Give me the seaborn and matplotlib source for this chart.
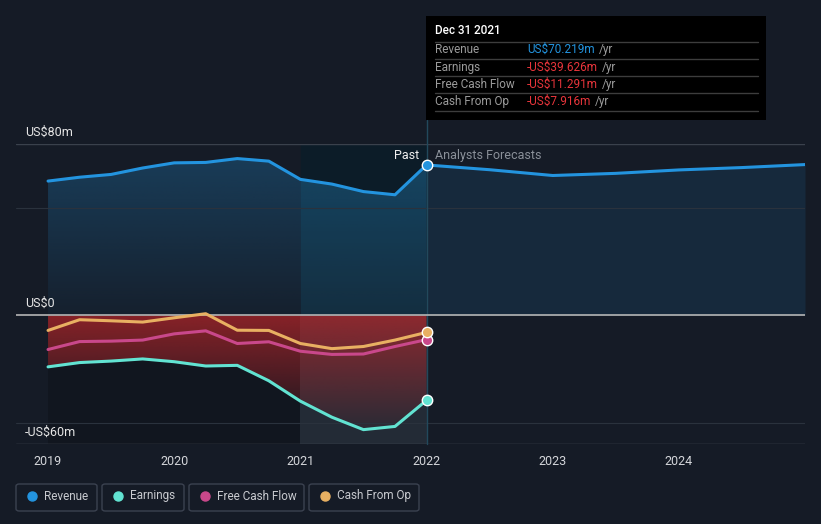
import numpy as np
import pandas as pd
import matplotlib
matplotlib.use("Agg")
import matplotlib.pyplot as plt
import matplotlib.colors as mcolors
from matplotlib.patches import FancyBboxPatch, Rectangle
from matplotlib.lines import Line2D
import seaborn as sns

# ---- data (US$m, trailing twelve months) ----
past_dates = [2019.0, 2019.25, 2019.5, 2019.75, 2020.0, 2020.25, 2020.5,
              2020.75, 2021.0, 2021.25, 2021.5, 2021.75, 2022.0]
revenue = [62.7, 64.5, 65.8, 68.8, 71.2, 71.4, 73.2, 72.0, 63.5, 61.3, 57.8, 56.3, 70.219]
earnings = [-24.0, -22.0, -21.3, -20.3, -21.6, -23.6, -23.3, -30.5, -40.0, -47.5, -53.3, -51.8, -39.626]
free_cash_flow = [-15.9, -12.2, -12.0, -11.5, -8.6, -7.2, -13.1, -12.3, -16.7, -18.2, -18.0, -14.5, -11.291]
cash_from_op = [-7.0, -2.0, -2.5, -3.1, -1.1, 0.8, -6.9, -7.0, -13.1, -15.5, -14.5, -11.5, -7.916]

fc_dates = [2022.0, 2022.5, 2023.0, 2023.5, 2024.0, 2024.5, 2025.0]
fc_revenue = [70.219, 68.0, 65.3, 66.3, 67.9, 69.0, 70.4]

x_ticks = [2019, 2020, 2021, 2022, 2023, 2024]
legend_names = ["Revenue", "Earnings", "Free Cash Flow", "Cash From Op"]
colors = {"Revenue": "#2394df", "Earnings": "#62e3d2",
          "Free Cash Flow": "#c9488b", "Cash From Op": "#e8b062"}

BG = "#151b26"
W, H = 821, 524

sns.set_theme(style="dark")
plt.rcParams["font.family"] = ["Roboto", "DejaVu Sans"]


def fx(px):
    return px / W


def fy(py):
    return 1 - py / H


def gradient_fill(ax, x, y, base, color, a_top, a_bot, y_top, y_bot, z):
    poly = ax.fill_between(x, y, base, color="none", lw=0)
    rgb = mcolors.to_rgb(color)
    grad = np.zeros((200, 1, 4))
    grad[:, 0, :3] = rgb
    grad[:, 0, 3] = np.linspace(a_top, a_bot, 200)
    im = ax.imshow(grad, aspect="auto", origin="upper",
                   extent=[min(x), max(x), y_bot, y_top], zorder=z)
    im.set_clip_path(poly.get_paths()[0], transform=ax.transData)


fig = plt.figure(figsize=(W / 100, H / 100), dpi=100, facecolor=BG)
ax = fig.add_axes([fx(16), fy(444), fx(805) - fx(16), (444 - 144) / H])
ax.set_facecolor(BG)

# shaded regions (last year of history highlighted)
band_x = past_dates[8:]
band_rev = revenue[8:]
ax.fill_between([2019, 2021], -60, 0, color="black", alpha=0.18, lw=0, zorder=0)
ax.fill_between(band_x, band_rev, 80, color="#00202c", alpha=0.4, lw=0, zorder=0)
ax.fill_between([2021, 2022], -60, 0, color="#9fb8c8", alpha=0.1, lw=0, zorder=0)

# area fills
gradient_fill(ax, past_dates, revenue, 0, "#1d5f8c", 0.5, 0.08, 75, 0, 1)
ax.fill_between(band_x, band_rev, 0, color="#0b7096", alpha=0.18, lw=0, zorder=1)
ax.fill_between(fc_dates, fc_revenue, 0, color="#2394df", alpha=0.12, lw=0, zorder=1)
gradient_fill(ax, past_dates, earnings, 0, "#c0282c", 0.68, 0.03, 0, -55, 1)

# grid lines
ax.axhline(80, color="#3a414c", lw=1, zorder=2)
ax.axhline(50, color="#2a323d", lw=0.8, zorder=2)
ax.axhline(-50, color="#2a323d", lw=0.8, zorder=2)
ax.axhline(-60, color="#4a505c", lw=1, zorder=2)
ax.axhline(0, color="#b5b5b5", lw=1.2, zorder=3)
ax.axvline(2022, ymin=0, ymax=(444 - 120) / 300, color="#22495c", lw=1,
           zorder=2, clip_on=False)

# lines
past = pd.DataFrame({"date": past_dates, "Revenue": revenue, "Earnings": earnings,
                     "Free Cash Flow": free_cash_flow, "Cash From Op": cash_from_op})
long = past.melt(id_vars="date", var_name="series", value_name="value")
sns.lineplot(data=long, x="date", y="value", hue="series", palette=colors,
             hue_order=["Earnings", "Free Cash Flow", "Cash From Op", "Revenue"],
             lw=2.2, legend=False, ax=ax, zorder=4)
fc = pd.DataFrame({"date": fc_dates, "value": fc_revenue})
sns.lineplot(data=fc, x="date", y="value", color=colors["Revenue"], lw=2.2,
             ax=ax, zorder=4)

for name, vals in [("Revenue", revenue), ("Earnings", earnings),
                   ("Free Cash Flow", free_cash_flow), ("Cash From Op", cash_from_op)]:
    ax.plot(past_dates[-1], vals[-1], "o", ms=7.5, color=colors[name],
            mec="white", mew=1, zorder=6, clip_on=False)

ax.set_xlim(2018.746, 2025.0)
ax.set_ylim(-60, 80)
ax.set_xticks(x_ticks)
ax.set_xticklabels([str(t) for t in x_ticks], color="#d4d6da", fontsize=9)
ax.tick_params(axis="x", length=0, pad=8)
ax.set_yticks([])
ax.set_xlabel("")
ax.set_ylabel("")
ax.grid(False)
for s in ax.spines.values():
    s.set_visible(False)

# y labels
for txt, py in [("US$80m", 132), ("US$0", 303), ("-US$60m", 432)]:
    fig.text(fx(25), fy(py), txt, color="#e6e6e6", fontsize=9, va="center", ha="left")

fig.text(fx(419), fy(156), "Past", color="#f0f0f0", fontsize=9, va="center", ha="right")
fig.text(fx(435), fy(156), "Analysts Forecasts", color="#8a9099", fontsize=9,
         va="center", ha="left")

# tooltip
fig.patches.append(Rectangle((fx(426), fy(120)), fx(766) - fx(426), fy(16) - fy(120),
                             transform=fig.transFigure, facecolor="black",
                             edgecolor="none", zorder=10))
fig.text(fx(435), fy(31), "Dec 31 2021", color="white", fontsize=8.5,
         fontweight="medium", va="center", ha="left", zorder=11)
for py in [41.5, 58.5, 75.5, 93, 110.5]:
    fig.lines.append(Line2D([fx(435), fx(758)], [fy(py), fy(py)], transform=fig.transFigure,
                            color="#3d3d3d", lw=1, zorder=11))
rows = [("Revenue", "US$70.219m", "#2394df", 49.5),
        ("Earnings", "-US$39.626m", "#e8353b", 67),
        ("Free Cash Flow", "-US$11.291m", "#e8353b", 84.5),
        ("Cash From Op", "-US$7.916m", "#e8353b", 101.5)]
fig.canvas.draw()
renderer = fig.canvas.get_renderer()
for label, val, c, py in rows:
    fig.text(fx(435), fy(py), label, color="#9b9b9b", fontsize=8.5, va="center",
             ha="left", zorder=11)
    t = fig.text(fx(527), fy(py), val, color=c, fontsize=8.5, va="center", ha="left",
                 zorder=11)
    bb = t.get_window_extent(renderer=renderer)
    fig.text(bb.x1 / W + fx(4), fy(py), "/yr", color="#9b9b9b", fontsize=8.5,
             va="center", ha="left", zorder=11)

# legend boxes
boxes = [(16, 97, 32, 44), (102, 184, 118, 130), (189, 304, 205, 217), (309, 419, 325, 337)]
for name, (x0, x1, dx, tx) in zip(legend_names, boxes):
    fig.patches.append(FancyBboxPatch((fx(x0), fy(511)), fx(x1) - fx(x0), fy(484) - fy(511),
                                      boxstyle="round,pad=0,rounding_size=0.004",
                                      transform=fig.transFigure, facecolor=BG,
                                      edgecolor="#3b4250", lw=1, zorder=10))
    fig.lines.append(Line2D([fx(dx)], [fy(496)], transform=fig.transFigure, marker="o",
                            ms=6.5, color=colors[name], lw=0, zorder=11))
    fig.text(fx(tx), fy(496), name, color="#c8cacf", fontsize=8.5, va="center",
             ha="left", zorder=11)

fig.savefig("out.png", dpi=100, facecolor=BG)
